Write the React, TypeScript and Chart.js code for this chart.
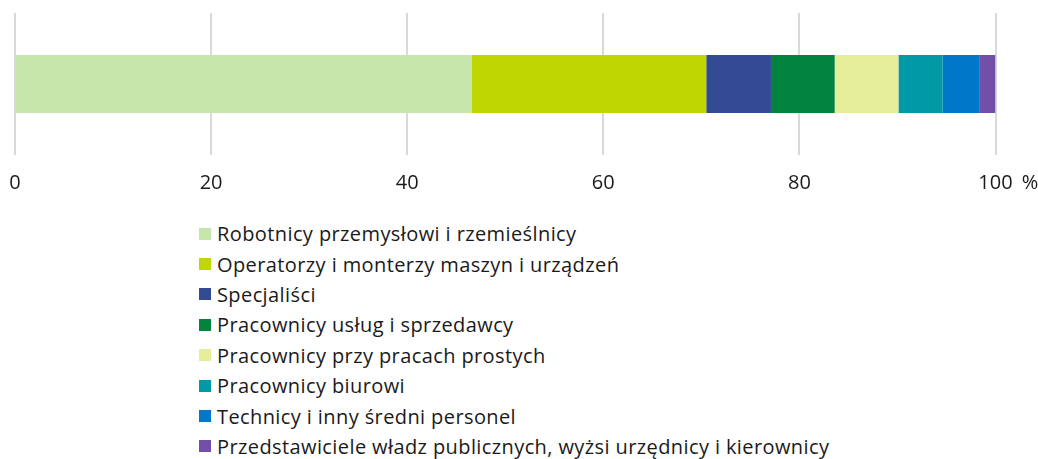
import React, { useEffect, useRef } from "react";
import { Chart, registerables } from "chart.js";

Chart.register(...registerables);

const categories = [""];
const seriesLabels = [
  "Robotnicy przemysłowi i rzemieślnicy",
  "Operatorzy i monterzy maszyn i urządzeń",
  "Specjaliści",
  "Pracownicy usług i sprzedawcy",
  "Pracownicy przy pracach prostych",
  "Pracownicy biurowi",
  "Technicy i inny średni personel",
  "Przedstawiciele władz publicznych, wyżsi urzędnicy i kierownicy",
];
const seriesValues = [46.6, 23.9, 6.6, 6.5, 6.5, 4.5, 3.8, 1.6];
const seriesColors = [
  "#c5e5aa",
  "#bfd600",
  "#334a94",
  "#02843f",
  "#e6ee9b",
  "#009aa6",
  "#0077c8",
  "#744fa9",
];
const xTickValues = [0, 20, 40, 60, 80, 100];
const unitLabel = "%";

const FONT = "'Open Sans', 'Noto Sans', sans-serif";
const FONT_SIZE = 20;
const TEXT_COLOR = "#1a1a1a";

const percentPlugin = {
  id: "percentUnit",
  afterDraw(chart: any) {
    const scale = chart.scales.x;
    const ctx = chart.ctx;
    const last = xTickValues[xTickValues.length - 1];
    const px = scale.getPixelForValue(last);
    ctx.save();
    ctx.font = `${FONT_SIZE}px ${FONT}`;
    const w = ctx.measureText(String(last)).width;
    ctx.fillStyle = TEXT_COLOR;
    ctx.textAlign = "left";
    ctx.textBaseline = "middle";
    const lh = FONT_SIZE * 1.2;
    const y = scale.top + scale.options.ticks.padding + lh / 2;
    ctx.fillText(unitLabel, px + w / 2 + 9, y);
    ctx.restore();
  },
};

export default function App() {
  const ref = useRef<HTMLCanvasElement | null>(null);
  useEffect(() => {
    if (!ref.current) return;
    const chart = new Chart(ref.current, {
      type: "bar",
      data: {
        labels: categories,
        datasets: seriesLabels.map((label, i) => ({
          label,
          data: [seriesValues[i]],
          backgroundColor: seriesColors[i],
          borderWidth: 0,
          barPercentage: 0.41,
          categoryPercentage: 1,
        })),
      },
      options: {
        indexAxis: "y",
        animation: false,
        responsive: true,
        maintainAspectRatio: false,
        layout: { padding: { top: 13, left: 15, right: 42.5, bottom: 0 } },
        plugins: {
          legend: { display: false },
          tooltip: { enabled: false },
        },
        scales: {
          x: {
            stacked: true,
            min: 0,
            max: 100,
            afterBuildTicks: (axis: any) => {
              axis.ticks = xTickValues.map((v) => ({ value: v }));
            },
            afterFit: (axis: any) => {
              axis.paddingLeft = 0;
              axis.paddingRight = 0;
              axis.height = 45;
            },
            grid: {
              color: "#d9d9d9",
              lineWidth: 2,
              drawTicks: false,
            },
            border: { display: false },
            ticks: {
              padding: 16,
              color: TEXT_COLOR,
              font: { family: FONT, size: FONT_SIZE },
              maxRotation: 0,
            },
          },
          y: {
            stacked: true,
            display: false,
          },
        },
      },
      plugins: [percentPlugin],
    });
    return () => chart.destroy();
  }, []);

  return (
    <div
      style={{
        position: "absolute",
        left: 0,
        top: 0,
        width: 1038,
        height: 459,
        overflow: "hidden",
        fontFamily: FONT,
      }}
    >
      <div style={{ position: "relative", width: 1038, height: 200 }}>
        <canvas ref={ref} />
      </div>
      <div style={{ marginTop: 18.5, marginLeft: 199 }}>
        {seriesLabels.map((label, i) => (
          <div
            key={label}
            style={{
              display: "flex",
              alignItems: "center",
              height: 30.4,
              fontSize: FONT_SIZE,
              letterSpacing: 0.4,
              color: TEXT_COLOR,
              whiteSpace: "nowrap",
            }}
          >
            <span
              style={{
                display: "inline-block",
                width: 12,
                height: 12,
                background: seriesColors[i],
                marginRight: 6,
                flexShrink: 0,
              }}
            />
            <span>{label}</span>
          </div>
        ))}
      </div>
    </div>
  );
}
